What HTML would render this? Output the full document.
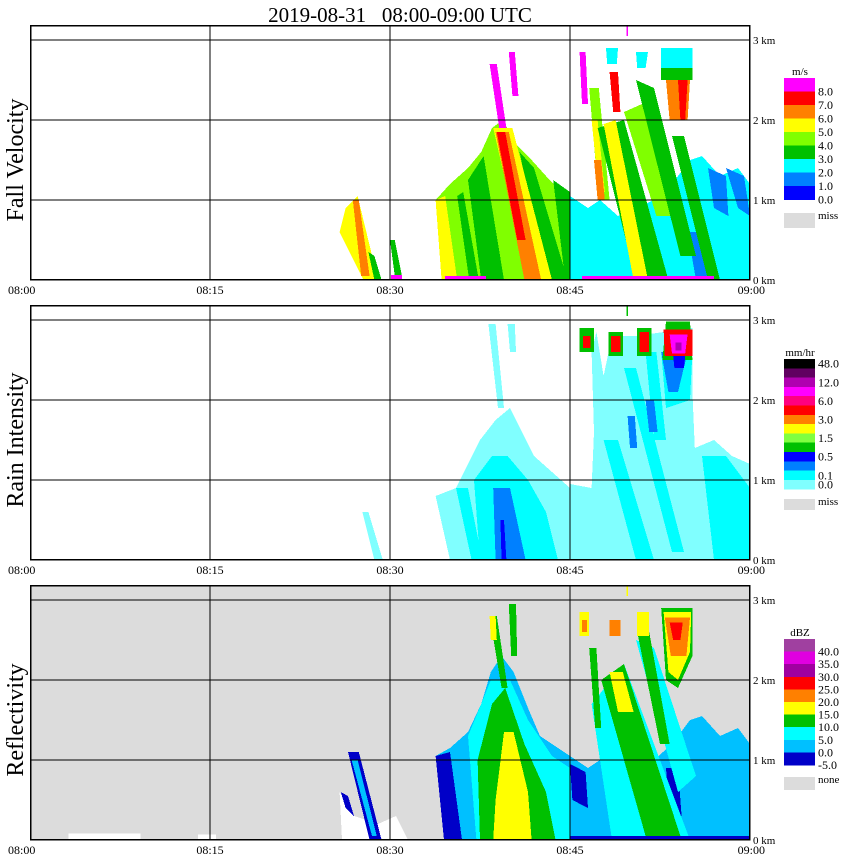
<!DOCTYPE html>
<html><head><meta charset="utf-8"><style>
html,body{margin:0;padding:0;background:#fff;width:850px;height:868px;overflow:hidden}
svg text{font-family:"Liberation Serif",serif}
</style></head><body>
<svg id="chart" width="850" height="868" viewBox="0 0 850 868" xmlns="http://www.w3.org/2000/svg" shape-rendering="crispEdges">
<text x="400" y="22" font-size="21" text-anchor="middle" xml:space="preserve" style="white-space:pre">2019-08-31   08:00-09:00 UTC</text>
</svg>
<script>
// ---- data (minutes after 08:00, km) ----
const timeTicks = ["08:00","08:15","08:30","08:45","09:00"];
const tickMinutes = [0,15,30,45,60];
const heightTicks = [0,1,2,3];
const heightLabels = ["0 km","1 km","2 km","3 km"];
const panelTitles = ["Fall Velocity","Rain Intensity","Reflectivity"];

const fvLevels = ["8.0","7.0","6.0","5.0","4.0","3.0","2.0","1.0","0.0"];
const fvColors = ["#ff00ff","#ff0000","#ff8000","#ffff00","#80ff00","#00c000","#00ffff","#0080ff","#0000ff"];
const riLevels = ["48.0","","12.0","","6.0","","3.0","","1.5","","0.5","","0.1","0.0"];
const riColors = ["#000000","#600060","#b000b0","#ff00ff","#ff0080","#ff0000","#ff8000","#ffff00","#80ff40","#00c000","#0000ff","#0080ff","#00ffff","#80ffff"];
const dbLevels = ["40.0","35.0","30.0","25.0","20.0","15.0","10.0","5.0","0.0","-5.0"];
const dbColors = ["#a040a0","#e000e0","#a000a0","#ff0000","#ff8000","#ffff00","#00c000","#00ffff","#00c0ff","#0000c8"];

// echo shapes: [color, [[minute,km],...]]
const fvShapes = [
 ["#ffff00",[[25.8,0.6],[26.3,0.9],[27.3,1.05],[29.0,0],[27.8,0]]],
 ["#ff8000",[[26.9,1.0],[27.4,1.0],[28.3,0.05],[27.6,0.05]]],
 ["#00c000",[[28.2,0.35],[28.7,0.3],[29.3,0],[28.7,0]]],
 ["#00c000",[[30,0.5],[30.4,0.5],[31,0.05],[30.4,0.05]]],
 ["#ff00ff",[[30.1,0.06],[31,0.06],[31,0],[30.1,0]]],
 ["#80ff00",[[33.8,1.0],[35,1.2],[36.5,1.4],[37.6,1.6],[38.5,1.9],[39.4,2.0],[40.5,1.7],[41.8,1.5],[43,1.3],[44.3,1.1],[45,1.0],[45,0],[34.3,0]]],
 ["#ffff00",[[33.8,1.0],[34.6,1.05],[35.6,0],[34.3,0]]],
 ["#00c000",[[35.6,1.05],[36.1,1.1],[37.4,0],[36.6,0]]],
 ["#00c000",[[36.5,1.25],[37.8,1.55],[39.5,0],[37.6,0]]],
 ["#00c000",[[40.8,1.6],[42,1.4],[44.8,0],[43,0]]],
 ["#00c000",[[43.6,1.25],[45,1.1],[45,0],[44.6,0]]],
 ["#ffff00",[[38.6,1.9],[40.2,1.9],[43.5,0],[41.5,0]]],
 ["#ff8000",[[38.8,1.85],[39.9,1.85],[42.6,0],[41.2,0]]],
 ["#ff0000",[[38.9,1.85],[39.6,1.85],[41.3,0.5],[40.6,0.5]]],
 ["#ff00ff",[[38.3,2.7],[38.9,2.7],[39.7,1.9],[39.1,1.9]]],
 ["#ff00ff",[[39.9,2.85],[40.4,2.85],[40.7,2.3],[40.2,2.3]]],
 ["#ff00ff",[[34.6,0.05],[38,0.05],[38,0],[34.6,0]]],
 ["#00ffff",[[45,1.05],[46.5,0.9],[47.5,1.0],[49,0.8],[52,1.0],[53.5,1.2],[55,1.5],[56,1.55],[57.5,1.3],[59,1.4],[60,1.2],[60,0],[45,0]]],
 ["#0080ff",[[54.8,0.6],[56.5,0.6],[57.2,0],[55.5,0]]],
 ["#0080ff",[[56.5,1.4],[58,1.3],[58.2,0.8],[57,0.9]]],
 ["#0080ff",[[58,1.4],[59.5,1.3],[60,0.8],[59,0.9]]],
 ["#80ff00",[[46.6,2.4],[47.4,2.4],[48.3,1.0],[47.4,1.0]]],
 ["#ffff00",[[46.8,2.0],[47.3,2.0],[47.9,1.1],[47.4,1.1]]],
 ["#00c000",[[47.3,1.9],[49.5,2.0],[53.2,0],[50.5,0]]],
 ["#ffff00",[[47.8,1.95],[48.8,2.0],[51.5,0],[50.3,0]]],
 ["#80ff00",[[49.5,2.1],[51,2.2],[53.5,0.8],[52.2,0.8]]],
 ["#00c000",[[50.5,2.5],[52,2.4],[55.5,0.3],[54.2,0.3]]],
 ["#ff0000",[[48.3,2.6],[49,2.6],[49.2,2.1],[48.6,2.1]]],
 ["#00c000",[[53.5,1.8],[54.5,1.8],[57.5,0],[56.5,0]]],
 ["#00ffff",[[52.6,2.9],[55.2,2.9],[55.2,2.65],[52.6,2.65]]],
 ["#00c000",[[52.6,2.65],[55.2,2.65],[55.2,2.5],[52.6,2.5]]],
 ["#ff8000",[[53,2.5],[55,2.5],[54.8,2.0],[53.3,2.0]]],
 ["#ff0000",[[54,2.5],[54.8,2.5],[54.6,2.0],[54.2,2.0]]],
 ["#ff00ff",[[45.8,2.85],[46.3,2.85],[46.5,2.2],[46.0,2.2]]],
 ["#00ffff",[[48,2.9],[49,2.9],[48.9,2.7],[48.1,2.7]]],
 ["#00ffff",[[50.5,2.85],[51.5,2.85],[51.3,2.65],[50.6,2.65]]],
 ["#ff8000",[[47,1.5],[47.6,1.5],[47.9,1.0],[47.3,1.0]]],
 ["#ff00ff",[[46,0.05],[57,0.05],[57,0],[46,0]]],
 ["#ff00ff",[[49.7,3.25],[49.85,3.25],[49.85,3.05],[49.7,3.05]]]
];
const riShapes = [
 ["#80ffff",[[27.7,0.6],[28.2,0.6],[29.4,0],[28.7,0]]],
 ["#80ffff",[[33.8,0.8],[35.5,0.9],[36.5,1.2],[37.5,1.5],[38.8,1.75],[40,1.9],[41,1.6],[42,1.3],[43.5,1.1],[45,0.9],[45,0],[35,0]]],
 ["#80ffff",[[38.2,2.95],[38.8,2.95],[39.5,1.9],[39.0,1.9]]],
 ["#80ffff",[[39.8,2.95],[40.4,2.95],[40.5,2.6],[40.0,2.6]]],
 ["#00ffff",[[37,1.0],[38.5,1.3],[39.8,1.3],[41.5,1.0],[43,0.6],[44,0],[37.5,0]]],
 ["#00ffff",[[35.5,0.9],[36.5,0.9],[37.7,0],[36.8,0]]],
 ["#0080ff",[[38.6,0.9],[40,0.9],[41.3,0],[38.8,0]]],
 ["#0000ff",[[39.2,0.5],[39.5,0.5],[39.7,0],[39.3,0]]],
 ["#80ffff",[[45,0.95],[46.8,0.9],[47,1.6],[46.8,2.6],[47.2,2.85],[47.8,2.3],[48.5,2.8],[50.5,2.8],[52.8,2.85],[55.2,2.9],[55.2,2.1],[55.4,1.4],[57,1.5],[58.5,1.3],[60,1.2],[60,0],[45,0]]],
 ["#00ffff",[[47.8,1.5],[49,1.5],[52,0],[50.5,0]]],
 ["#00ffff",[[49.5,2.4],[50.5,2.4],[54.5,0.1],[53.5,0.1]]],
 ["#00ffff",[[51.3,2.6],[52.2,2.6],[53,1.5],[52,1.5]]],
 ["#00ffff",[[52.6,2.6],[55.2,2.6],[55,2.0],[53,1.9]]],
 ["#00ffff",[[56,1.3],[58,1.3],[60,0.9],[60,0],[57,0]]],
 ["#0080ff",[[52.6,2.6],[54.8,2.6],[54,2.1],[53.2,2.1]]],
 ["#0080ff",[[51.3,2.0],[52,2.0],[52.3,1.6],[51.6,1.6]]],
 ["#0080ff",[[49.8,1.8],[50.4,1.8],[50.6,1.4],[50,1.4]]],
 ["#00c000",[[45.8,2.9],[47,2.9],[47,2.6],[45.8,2.6]]],
 ["#ff0000",[[46.1,2.8],[46.7,2.8],[46.7,2.65],[46.1,2.65]]],
 ["#00c000",[[48.2,2.85],[49.4,2.85],[49.4,2.55],[48.2,2.55]]],
 ["#ff0000",[[48.4,2.8],[49.2,2.8],[49.2,2.6],[48.4,2.6]]],
 ["#00c000",[[50.6,2.9],[51.8,2.9],[51.8,2.55],[50.6,2.55]]],
 ["#ff0000",[[50.8,2.85],[51.6,2.85],[51.6,2.6],[50.8,2.6]]],
 ["#00c000",[[53,2.98],[55,2.98],[55.2,2.5],[52.7,2.5]]],
 ["#ff0000",[[52.8,2.88],[55.2,2.88],[55.2,2.55],[52.9,2.55]]],
 ["#ff00ff",[[53.3,2.82],[54.8,2.82],[54.6,2.58],[53.5,2.58]]],
 ["#b000b0",[[53.8,2.72],[54.3,2.72],[54.3,2.62],[53.8,2.62]]],
 ["#0000ff",[[53.6,2.55],[54.6,2.55],[54.5,2.4],[53.7,2.4]]],
 ["#00c000",[[49.7,3.25],[49.85,3.25],[49.85,3.05],[49.7,3.05]]]
];
const dbShapes = [
 ["#ffffff",[[3.2,0.08],[9.2,0.08],[9.2,0],[3.2,0]]],
 ["#ffffff",[[14,0.07],[15.5,0.07],[15.5,0],[14,0]]],
 ["#ffffff",[[25.8,0.6],[27,0.3],[29,0.2],[30.5,0.3],[31.5,0],[26,0]]],
 ["#0000c8",[[26.5,1.1],[27.4,1.1],[29.3,0],[28.3,0]]],
 ["#00c0ff",[[26.8,1.0],[27.3,1.0],[28.9,0.05],[28.5,0.05]]],
 ["#0000c8",[[25.9,0.6],[26.5,0.55],[27,0.3],[26.3,0.4]]],
 ["#00c0ff",[[33.8,1.05],[35,1.15],[36.5,1.35],[37.6,1.7],[38.4,2.1],[39.3,2.3],[40.3,2.1],[41.5,1.65],[42.5,1.3],[44,1.15],[45,1.05],[45,0],[34.5,0]]],
 ["#0000c8",[[33.8,1.05],[35,1.1],[36,0],[34.5,0]]],
 ["#00ffff",[[36.5,1.3],[37.6,1.7],[38.4,2.0],[40,2.0],[41.5,1.5],[43.5,1.05],[45,0.9],[45,0],[37.2,0]]],
 ["#00c000",[[37.3,1.0],[38.5,1.7],[39.6,1.9],[41.2,1.2],[43,0.6],[43.8,0],[37.5,0]]],
 ["#ffff00",[[38.8,0.5],[39.5,1.35],[40.3,1.35],[41.5,0.6],[41.8,0],[38.6,0]]],
 ["#00c000",[[38.3,2.8],[38.9,2.8],[39.8,1.9],[39.3,1.9]]],
 ["#ffff00",[[38.3,2.8],[38.8,2.8],[38.9,2.5],[38.4,2.5]]],
 ["#00c000",[[39.9,2.95],[40.5,2.95],[40.6,2.3],[40.1,2.3]]],
 ["#00c0ff",[[45,1.05],[46.5,0.9],[47.5,1.0],[49,0.8],[52,1.0],[53.5,1.2],[55,1.5],[56,1.55],[57.5,1.3],[59,1.4],[60,1.2],[60,0],[45,0]]],
 ["#0000c8",[[45,0.95],[46.3,0.85],[46.5,0.4],[45.2,0.5]]],
 ["#0000c8",[[53,0.9],[54,0.9],[54.3,0.3],[53.3,0.3]]],
 ["#00ffff",[[46.8,1.7],[49.5,2.2],[55,0],[48.5,0]]],
 ["#00ffff",[[50.5,2.5],[52,2.4],[55.5,0.8],[54,0.6]]],
 ["#00c000",[[46.6,2.4],[47.2,2.4],[47.6,1.4],[47.1,1.4]]],
 ["#00c000",[[47.6,2.0],[49.5,2.2],[54.2,0.05],[51.3,0.05]]],
 ["#ffff00",[[48.3,2.1],[49.4,2.1],[50.3,1.6],[49,1.6]]],
 ["#00c000",[[50.6,2.6],[51.6,2.6],[53.3,1.2],[52.5,1.2]]],
 ["#00c000",[[52.6,2.9],[55.2,2.9],[55.2,2.3],[54,1.9],[53,2.0]]],
 ["#ffff00",[[52.8,2.85],[55.1,2.85],[55,2.35],[54,2.0],[53.2,2.1]]],
 ["#ff8000",[[52.9,2.78],[55,2.78],[54.7,2.3],[53.4,2.3]]],
 ["#ff0000",[[53.3,2.72],[54.4,2.72],[54.2,2.5],[53.6,2.5]]],
 ["#ffff00",[[45.8,2.85],[46.6,2.85],[46.6,2.55],[45.8,2.55]]],
 ["#ff8000",[[46,2.75],[46.4,2.75],[46.4,2.6],[46,2.6]]],
 ["#ff8000",[[48.3,2.75],[49.2,2.75],[49.2,2.55],[48.3,2.55]]],
 ["#ffff00",[[50.6,2.85],[51.6,2.85],[51.6,2.55],[50.6,2.55]]],
 ["#0000c8",[[45,0.05],[60,0.05],[60,0],[45,0]]],
 ["#ffff00",[[49.7,3.25],[49.85,3.25],[49.85,3.05],[49.7,3.05]]]
];

const NS="http://www.w3.org/2000/svg";
const svg=document.getElementById('chart');
const panelBase=[280,560,840];
const panelBg=["#ffffff","#ffffff","#dcdcdc"];
const shapesByPanel=[fvShapes,riShapes,dbShapes];
const xS=m=>30+12*m;
function mk(tag,attrs,parent){const e=document.createElementNS(NS,tag);for(const k in attrs)e.setAttribute(k,attrs[k]);(parent||svg).appendChild(e);return e;}

panelBase.forEach((base,p)=>{
  const yS=k=>base-80*k;
  const g=mk('g',{});
  
  
  const bg=mk('rect',{x:30,y:base-255,width:720,height:255,fill:panelBg[p]},g);
  
  
  const clip=mk('clipPath',{id:'c'+p},g);
  mk('rect',{x:30,y:base-255,width:720,height:255},clip);
  const sg=mk('g',{'clip-path':'url(#c'+p+')'},g);
  shapesByPanel[p].forEach(s=>{
    const pl=mk('polygon',{points:s[1].map(v=>xS(v[0])+','+yS(v[1])).join(' '),fill:s[0]},sg);
    
    
  });
  heightTicks.forEach((h,i)=>{
    if(h>0){const l=mk('line',{x1:30,x2:750,y1:yS(h),y2:yS(h),stroke:'#000','stroke-width':1},g);
    
    }
    const t=mk('text',{x:753,y:yS(h)+4,'font-size':11},g);t.textContent=heightLabels[i];
    
    
  });
  tickMinutes.forEach((m,i)=>{
    if(m>0&&m<60){const l=mk('line',{x1:xS(m),x2:xS(m),y1:base-255,y2:base,stroke:'#000'},g);
    
    }
    const anchor=i===0?'start':(i===4?'end':'middle');
    const tx=i===0?8:(i===4?765:xS(m));
    const t=mk('text',{x:tx,y:base+14,'font-size':12,'text-anchor':anchor,'font-family':'Liberation Sans, sans-serif'},g);
    t.textContent=timeTicks[i];
    
    
  });
  const fr=mk('rect',{x:30.5,y:base-254.5,width:719,height:254,fill:'none',stroke:'#000','stroke-width':1.5},g);
  
  
  const tt=mk('text',{x:0,y:0,'font-size':24,'text-anchor':'middle',transform:`translate(23,${base-120}) rotate(-90)`},g);
  tt.textContent=panelTitles[p];
  
  
});

function legend(top,colors,levels,unit,h,missText,missY,missH,offset){
  const g=mk('g',{});
  
  
  const u=mk('text',{x:800,y:top-3,'font-size':11,'text-anchor':'middle'},g);u.textContent=unit;
  
  
  colors.forEach((c,i)=>{
    const r=mk('rect',{x:784,y:top+i*h,width:31,height:h+0.5,fill:c},g);
    
    
  });
  levels.forEach((l,i)=>{
    if(!l)return;
    const t=mk('text',{x:818,y:top+(i+offset)*h+4,'font-size':12},g);t.textContent=l;
    
    
  });
  const m=mk('rect',{x:784,y:missY,width:31,height:missH,fill:'#dcdcdc'},g);
  
  
  const mt=mk('text',{x:818,y:missY+6,'font-size':11},g);mt.textContent=missText;
  
  
}
legend(78,fvColors,fvLevels,'m/s',13.5,'miss',213,15,1);
legend(359,riColors,riLevels,'mm/hr',9.3,'miss',499,11,0.5);
legend(639,dbColors,dbLevels,'dBZ',12.6,'none',777,13,1);
</script>
</body></html>
